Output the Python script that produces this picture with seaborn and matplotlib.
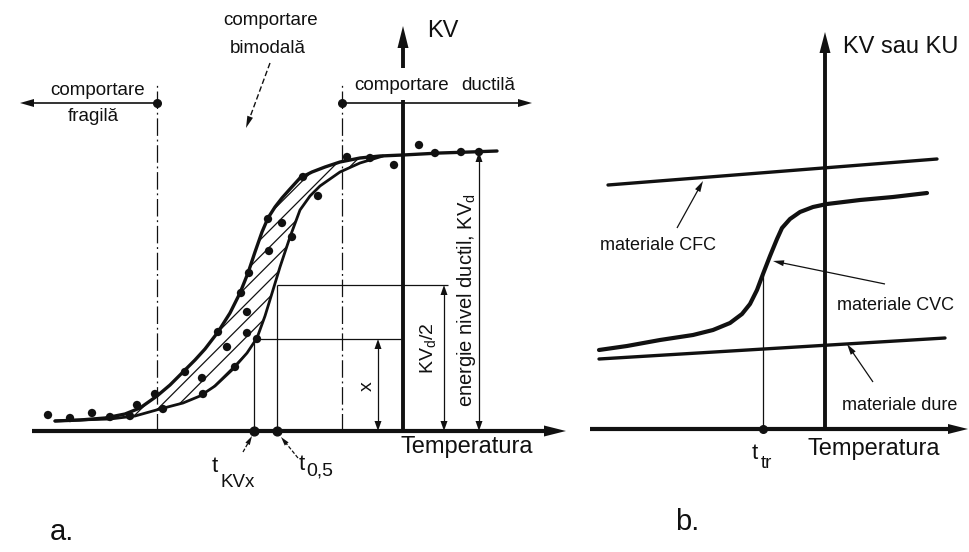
import matplotlib
matplotlib.use("Agg")
import numpy as np
import matplotlib.pyplot as plt
import seaborn as sns

# ---------------- panel a: temperature offset vs. impact energy KV ----------------
upper_T = [-348, -323, -298, -278, -263, -246, -233, -220, -208, -198, -185, -173, -163, -155,
           -148, -141, -135, -128, -121, -113, -103, -91, -78, -63, -43, -23, 0, 37, 67, 94]
upper_KV = [10, 11, 13, 17, 23, 35, 46, 59, 71, 82, 99, 118, 138, 158,
            179, 199, 213, 224, 233, 242, 253, 259, 264, 269, 273, 275, 276, 278, 279, 280]
lower_T = [-348, -323, -293, -268, -243, -220, -203, -188, -171, -156, -146, -138, -130,
           -123, -113, -103, -93, -83, -63, -43, -20]
lower_KV = [10, 11, 12, 15, 22, 28, 35, 45, 61, 78, 93, 115, 141,
            164, 194, 221, 235, 245, 259, 268, 275]
test_T = [-355, -333, -311, -293, -273, -266, -248, -240, -218, -201, -200, -185, -176, -168,
          -162, -156, -156, -154, -146, -135, -134, -121, -111, -100, -85, -56, -33, -9, 16,
          32, 58, 76]
test_KV = [16, 13, 18, 14, 15, 26, 37, 22, 59, 53, 37, 99, 84, 64,
           138, 119, 98, 158, 92, 212, 180, 208, 194, 254, 235, 274, 273, 266, 286,
           278, 279, 279]
KV_d = 279          # ductile level
KV_half = 146       # KVd/2
KV_x = 92           # level x
T_kvx = -149        # t_KVx
T_05 = -126         # t_0,5
T_brittle = -246    # limit of brittle behaviour
T_ductile = -61     # limit of ductile behaviour

# ---------------- panel b: material classes ----------------
cfc_T = [-217, 112]
cfc_KV = [244, 270]
cvc_T = [-226, -198, -165, -132, -112, -95, -83, -75, -68, -62, -55, -48, -43, -35, -25,
         -12, 2, 35, 68, 102]
cvc_KV = [79, 83, 89, 94, 99, 106, 115, 125, 139, 155, 173, 190, 201, 210, 217,
          222, 225, 229, 232, 236]
dure_T = [-226, 120]
dure_KV = [70, 91]
T_tr = -62
KV_tr = 155

# ---------------- style ----------------
sns.set_theme(style="white")
plt.rcParams["font.family"] = ["Liberation Sans", "DejaVu Sans"]
plt.rcParams["mathtext.fontset"] = "custom"
plt.rcParams["mathtext.rm"] = "Liberation Sans"
plt.rcParams["mathtext.it"] = "Liberation Sans"
plt.rcParams["hatch.linewidth"] = 0.9
plt.rcParams["hatch.color"] = "black"
INK = "#111111"

fig = plt.figure(figsize=(9.7, 5.52), dpi=100)
fig.patch.set_facecolor("white")
ax_a = fig.add_axes([0, 0, 600 / 970, 1])
ax_b = fig.add_axes([560 / 970, 0, 410 / 970, 1])
for ax in (ax_a, ax_b):
    ax.patch.set_alpha(0)


def head(ax, tip, d, L, W):
    d = np.asarray(d, float)
    d = d / np.hypot(*d)
    p = np.array([-d[1], d[0]])
    tip = np.asarray(tip, float)
    base = tip - L * d
    pts = np.array([tip, base + W / 2 * p, base - W / 2 * p])
    ax.fill(pts[:, 0], pts[:, 1], color=INK, lw=0, zorder=6)


def seg(ax, x, y, lw, ls="-", z=3):
    ax.plot(x, y, color=INK, lw=lw, ls=ls, solid_capstyle="butt", zorder=z)


def arrow(ax, start, end, lw, L, W, both=False, ls="-"):
    s = np.asarray(start, float)
    e = np.asarray(end, float)
    d = (e - s) / np.hypot(*(e - s))
    e2 = e - 0.6 * L * d
    s2 = s + 0.6 * L * d if both else s
    seg(ax, [s2[0], e2[0]], [s2[1], e2[1]], lw, ls)
    head(ax, e, d, L, W)
    if both:
        head(ax, s, -d, L, W)


def label(ax, x, y, s, size, **kw):
    kw.setdefault("va", "baseline")
    ax.text(x, y, s, fontsize=size, color=INK, **kw)


# ================= panel a =================
# band between the two transition curves (hatched)
uT = np.array(upper_T)
uK = np.array(upper_KV)
m = uT <= lower_T[-1]
poly_T = np.r_[uT[m], np.array(lower_T)[::-1]]
poly_K = np.r_[uK[m], np.array(lower_KV)[::-1]]
ax_a.fill(poly_T, poly_K, facecolor="none", edgecolor=INK, hatch="//", lw=0, zorder=2)

sns.lineplot(x=upper_T, y=upper_KV, ax=ax_a, color=INK, lw=2.4, estimator=None,
             legend=False, zorder=4)
sns.lineplot(x=lower_T, y=lower_KV, ax=ax_a, color=INK, lw=2.0, estimator=None,
             legend=False, zorder=4)
sns.scatterplot(x=test_T, y=test_KV, ax=ax_a, color=INK, s=36, edgecolor="none",
                legend=False, zorder=5)

# axes of panel a
arrow(ax_a, (-371, 0), (163, 0), 3.0, 22, 11)
seg(ax_a, [0, 0], [0, 331], 2.8)
arrow(ax_a, (0, 363), (0, 405), 2.8, 22, 11)

# behaviour limits (dash-dot)
dd = (0, (14, 3, 1.5, 3))
seg(ax_a, [T_brittle, T_brittle], [0, 348], 0.9, ls=dd, z=1)
seg(ax_a, [T_ductile, T_ductile], [0, 348], 0.9, ls=dd, z=1)
arrow(ax_a, (T_brittle, 328), (-383, 328), 1.2, 14, 8)
arrow(ax_a, (T_ductile, 328), (129, 328), 1.2, 14, 8)
ax_a.scatter([T_brittle, T_ductile], [328, 328], s=30, color=INK, zorder=6)

# dimension lines
seg(ax_a, [T_kvx, 0], [KV_x, KV_x], 0.9)
seg(ax_a, [T_kvx, T_kvx], [0, KV_x], 0.9)
seg(ax_a, [T_05, 45], [KV_half, KV_half], 0.9)
seg(ax_a, [T_05, T_05], [0, KV_half], 0.9)
ax_a.scatter([T_kvx, T_05], [0, 0], s=40, color=INK, zorder=6)
arrow(ax_a, (-25, 0), (-25, KV_x), 0.9, 10, 7, both=True)
arrow(ax_a, (41, 0), (41, KV_half), 0.9, 10, 7, both=True)
arrow(ax_a, (76, 0), (76, KV_d), 0.9, 10, 7, both=True)

# leaders
arrow(ax_a, (-133, 368), (-157, 303), 1.0, 12, 6, ls=(0, (4, 2)))
arrow(ax_a, (-160, -21), (-151, -5), 0.9, 9, 5, ls=(0, (3, 1.5)))
arrow(ax_a, (-105, -27), (-122, -6), 0.9, 9, 5, ls=(0, (3, 1.5)))

# texts panel a
label(ax_a, 24, 394, "KV", 17)
label(ax_a, -3, -22, "Temperatura", 17)
label(ax_a, -132, 406, "comportare", 13.5, ha="center")
label(ax_a, -135, 378, "bimodală", 13.5, ha="center")
label(ax_a, -305, 336, "comportare", 13.5, ha="center")
label(ax_a, -310, 310, "fragilă", 13.5, ha="center")
label(ax_a, -1, 341, "comportare", 13.5, ha="center")
label(ax_a, 85, 341, "ductilă", 13.5, ha="center")
label(ax_a, -191, -41, "t", 16)
label(ax_a, -183, -56, "KVx", 13.5)
label(ax_a, -104, -39, "t", 16)
label(ax_a, -97, -45, "0,5", 14)
ax_a.text(-36, 45, "x", fontsize=14, color=INK, rotation=90, ha="center", va="center",
          rotation_mode="anchor")
ax_a.text(25, 83, r"KV$_\mathregular{d}$/2", fontsize=14, color=INK, rotation=90,
          ha="center", va="center", rotation_mode="anchor")
ax_a.text(63, 131, r"energie nivel ductil, KV$_\mathregular{d}$", fontsize=14.5, color=INK,
          rotation=90, ha="center", va="center", rotation_mode="anchor")
label(ax_a, -353, -109, "a.", 21)

# ================= panel b =================
arrow(ax_b, (-235, 0), (143, 0), 3.0, 20, 10)
arrow(ax_b, (0, 0), (0, 397), 2.8, 21, 11)

sns.lineplot(x=cfc_T, y=cfc_KV, ax=ax_b, color=INK, lw=2.4, estimator=None, legend=False)
sns.lineplot(x=cvc_T, y=cvc_KV, ax=ax_b, color=INK, lw=3.0, estimator=None, legend=False)
sns.lineplot(x=dure_T, y=dure_KV, ax=ax_b, color=INK, lw=2.4, estimator=None, legend=False)

seg(ax_b, [T_tr, T_tr], [0, KV_tr], 0.9)
ax_b.scatter([T_tr], [0], s=30, color=INK, zorder=6)

arrow(ax_b, (-148, 201), (-122, 248), 0.9, 11, 6)
arrow(ax_b, (60, 145), (-52, 168), 0.9, 11, 6)
arrow(ax_b, (48, 47), (22, 85), 0.9, 11, 6)

label(ax_b, 18, 376, "KV sau KU", 17)
label(ax_b, -17, -26, "Temperatura", 17)
label(ax_b, -225, 179, "materiale CFC", 13)
label(ax_b, 12, 119, "materiale CVC", 13)
label(ax_b, 17, 19, "materiale dure", 13)
label(ax_b, -73, -30, "t", 16)
label(ax_b, -64, -39, "tr", 13.5)
label(ax_b, -150, -101, "b.", 21)

ax_a.set_xlim(-403, 197)
ax_a.set_ylim(-121, 431)
ax_b.set_xlim(-265, 145)
ax_b.set_ylim(-123, 429)
for ax in (ax_a, ax_b):
    ax.set_axis_off()

fig.savefig("out.png", dpi=100)
